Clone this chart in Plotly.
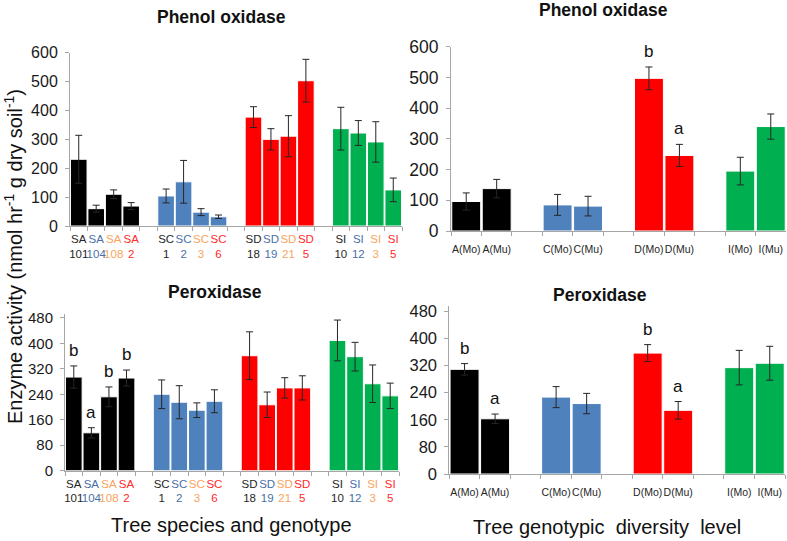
import plotly.graph_objects as go

# ---------------- data ----------------
species = ["SA", "SC", "SD", "SI"]
genotypes = [["101", "104", "108", "2"],
             ["1", "2", "3", "6"],
             ["18", "19", "21", "5"],
             ["10", "12", "3", "5"]]

po_geno = [231, 60, 110, 69, 104, 153, 48, 32, 377, 300, 311, 503, 337, 322, 291, 125]
po_geno_err = [83, 12, 15, 12, 24, 74, 12, 6, 36, 37, 71, 74, 74, 43, 70, 41]

px_geno = [294, 119, 232, 291, 240, 215, 190, 218, 361, 207, 260, 260, 409, 358, 273, 235]
px_geno_err = [35, 16, 31, 25, 45, 52, 23, 36, 75, 40, 32, 38, 64, 45, 59, 40]
px_geno_letters = ["b", "a", "b", "b", "", "", "", "", "", "", "", "", "", "", "", ""]

levels = ["A", "C", "D", "I"]
diversity = ["Mo", "Mu"]

po_div = [96, 138, 85, 81, 497, 246, 195, 340]
po_div_err = [28, 30, 34, 32, 37, 36, 45, 41]
po_div_letters = ["", "", "", "", "b", "a", "", ""]

px_div = [309, 163, 227, 208, 357, 188, 314, 327]
px_div_err = [17, 14, 31, 30, 25, 26, 51, 50]
px_div_letters = ["b", "a", "", "", "b", "a", "", ""]

bar_colors = ["#000000", "#4f81bd", "#ff0000", "#00b050"]
label_colors = ["#262626", "#4a6fa8", "#f9a45c", "#ff2a2a"]

FONT = "Liberation Sans, Arial, sans-serif"
AXIS_COLOR = "#a6a6a6"

# ---------------- category building ----------------
def geno_categories():
    cats, texts, bars, colors = [], [], [], []
    for gi, sp in enumerate(species):
        if gi > 0:
            gap = "gap%d" % gi
            cats.append(gap)
            texts.append("")
        for ki, g in enumerate(genotypes[gi]):
            name = sp + g
            cats.append(name)
            c = label_colors[ki]
            texts.append("<span style='color:%s'>%s<br>%s</span>" % (c, sp, g))
            bars.append(name)
            colors.append(bar_colors[gi])
    return cats, texts, bars, colors


def div_categories():
    cats, texts, bars, colors = [], [], [], []
    for li, lv in enumerate(levels):
        if li > 0:
            gap = "gap%d" % li
            cats.append(gap)
            texts.append("")
        for d in diversity:
            name = "%s(%s)" % (lv, d)
            cats.append(name)
            texts.append(name)
            bars.append(name)
            colors.append(bar_colors[li])
    return cats, texts, bars, colors


g_cats, g_texts, g_bars, g_colors = geno_categories()
d_cats, d_texts, d_bars, d_colors = div_categories()

fig = go.Figure()

panels = [
    ("x", "y", g_bars, po_geno, po_geno_err, g_colors, None),
    ("x2", "y2", d_bars, po_div, po_div_err, d_colors, po_div_letters),
    ("x3", "y3", g_bars, px_geno, px_geno_err, g_colors, px_geno_letters),
    ("x4", "y4", d_bars, px_div, px_div_err, d_colors, px_div_letters),
]

annotations = []
for xa, ya, cats, vals, errs, cols, letters in panels:
    fig.add_trace(go.Bar(
        x=cats, y=vals, xaxis=xa, yaxis=ya,
        marker=dict(color=cols, line=dict(color="white", width=1)),
        error_y=dict(type="data", array=errs, color="#262626", thickness=1, width=3.5),
        showlegend=False, hoverinfo="x+y",
    ))
    if letters:
        for c, v, e, t in zip(cats, vals, errs, letters):
            if t:
                annotations.append(dict(
                    x=c, y=v + e, xref=xa, yref=ya, text=t, showarrow=False,
                    yanchor="bottom", yshift=4,
                    font=dict(family=FONT, size=17, color="#111111")))

def xaxis(domain, anchor, cats, texts, size, standoff):
    return dict(domain=domain, anchor=anchor, type="category",
                categoryorder="array", categoryarray=cats,
                tickmode="array", tickvals=cats, ticktext=texts,
                range=[-0.5, len(cats) - 0.5], automargin=False,
                showline=True, linecolor=AXIS_COLOR, linewidth=1,
                ticks="outside", tickson="boundaries", ticklen=4,
                tickcolor=AXIS_COLOR, showgrid=False, zeroline=False,
                tickangle=0, ticklabelstandoff=standoff,
                tickfont=dict(family=FONT, size=size, color="#262626"),
                fixedrange=True)


def yaxis(domain, anchor, rng, dtick, size):
    return dict(domain=domain, anchor=anchor, range=rng, dtick=dtick,
                tick0=0, showline=True, linecolor=AXIS_COLOR, linewidth=1,
                ticks="outside", ticklen=4, tickcolor=AXIS_COLOR,
                showgrid=False, zeroline=False, automargin=False,
                ticklabelstandoff=4,
                tickfont=dict(family=FONT, size=size, color="#1a1a1a"),
                fixedrange=True)


W, H = 787, 541
def px_x(v):
    return v / W
def px_y(v):
    return 1 - v / H

fig.update_layout(
    width=W, height=H,
    margin=dict(l=0, r=0, t=0, b=0, autoexpand=False),
    paper_bgcolor="white", plot_bgcolor="white",
    bargap=0.05,
    xaxis=xaxis([px_x(70), px_x(402)], "y", g_cats, g_texts, 11.5, 2),
    yaxis=yaxis([px_y(226), px_y(52.7)], "x", [0, 600], 100, 16),
    xaxis2=xaxis([px_x(451), px_x(786)], "y2", d_cats, d_texts, 10.5, 8),
    yaxis2=yaxis([px_y(231), px_y(46.7)], "x2", [0, 600], 100, 17.5),
    xaxis3=xaxis([px_x(65), px_x(399)], "y3", g_cats, g_texts, 11.5, 2),
    yaxis3=yaxis([px_y(470.7), px_y(314)], "x3", [0, 492], 80, 15),
    xaxis4=xaxis([px_x(449.3), px_x(785)], "y4", d_cats, d_texts, 10.5, 8),
    yaxis4=yaxis([px_y(474), px_y(306)], "x4", [0, 496], 80, 16.5),
)

title_font = dict(family=FONT, size=17.5, color="#111111")
for txt, cx, cy in [("<b>Phenol oxidase</b>", 222, 17),
                    ("<b>Phenol oxidase</b>", 603, 10),
                    ("<b>Peroxidase</b>", 215, 292),
                    ("<b>Peroxidase</b>", 600, 295)]:
    annotations.append(dict(x=px_x(cx), y=px_y(cy), xref="paper", yref="paper",
                            text=txt, showarrow=False, xanchor="center",
                            yanchor="middle", font=title_font))

axis_title_font = dict(family=FONT, size=20, color="#111111")
annotations.append(dict(x=px_x(232), y=px_y(525), xref="paper", yref="paper",
                        text="Tree species and genotype", showarrow=False,
                        xanchor="center", yanchor="middle", font=axis_title_font))
annotations.append(dict(x=px_x(607), y=px_y(527), xref="paper", yref="paper",
                        text="Tree genotypic  diversity  level", showarrow=False,
                        xanchor="center", yanchor="middle", font=axis_title_font))
annotations.append(dict(x=px_x(13), y=px_y(257), xref="paper", yref="paper",
                        text="Enzyme activity (nmol hr<sup>-1</sup> g dry soil<sup>-1</sup>)",
                        showarrow=False, textangle=-90, xanchor="center",
                        yanchor="middle", font=dict(family=FONT, size=20, color="#111111")))

fig.update_layout(annotations=annotations)

fig.write_html("out.html",
               config={"displayModeBar": False},
               post_script="document.body.style.margin='0';document.body.style.overflow='hidden';")
